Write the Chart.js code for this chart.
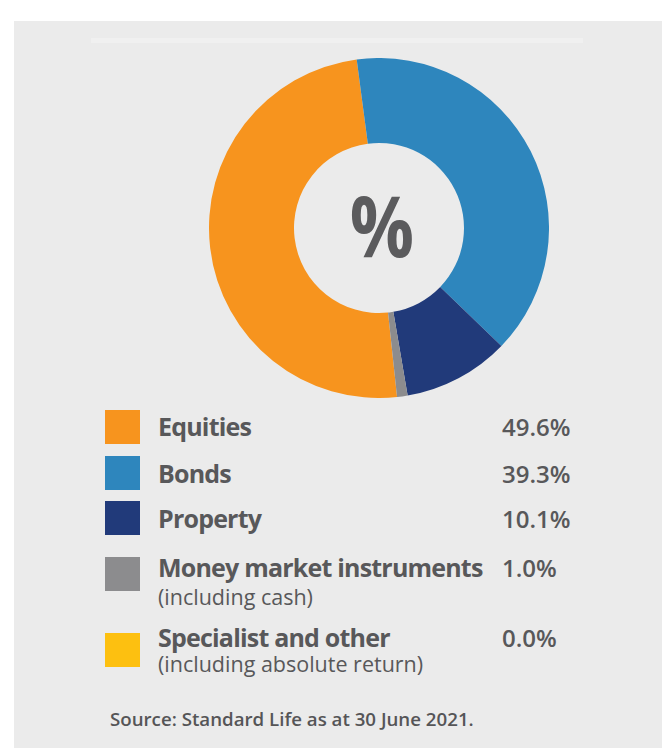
<!DOCTYPE html>
<html>
<head>
<meta charset="utf-8">
<script src="https://cdn.jsdelivr.net/npm/chart.js@4.4.0/dist/chart.umd.min.js"></script>
<style>
  html, body { margin: 0; padding: 0; background: #ffffff; }
  body { width: 667px; height: 748px; position: relative; overflow: hidden; font-family: "Open Sans", sans-serif; color: #58585a; }
  #panel { position: absolute; left: 14px; top: 21px; width: 648px; height: 727px; background: #ebebeb; }
  #rule { position: absolute; left: 91px; top: 38px; width: 492px; height: 5px; background: #f0f0f0; }
  #chartBox { position: absolute; left: 209px; top: 58px; width: 340px; height: 340px; }
  .sw { position: absolute; left: 105px; width: 35px; height: 34px; }
  .lab { position: absolute; left: 158px; font-weight: 700; font-size: 25px; line-height: 25px; white-space: nowrap; letter-spacing: -0.8px; }
  .sub { position: absolute; left: 158px; font-weight: 400; font-size: 21.5px; line-height: 21.5px; white-space: nowrap; }
  .val { position: absolute; left: 502px; font-weight: 600; font-size: 24px; line-height: 24px; white-space: nowrap; }
  #source { position: absolute; left: 110px; top: 710px; font-weight: 600; font-size: 18.7px; line-height: 18.7px; white-space: nowrap; color: #555557; }
</style>
</head>
<body>
<div id="panel"></div>
<div id="rule"></div>
<div id="chartBox"><canvas id="c" width="340" height="340"></canvas></div>
<div id="legend"></div>
<div id="source"></div>
<script>
const categories = ["Equities", "Bonds", "Property", "Money market instruments", "Specialist and other"];
const subLabels = ["", "", "", "(including cash)", "(including absolute return)"];
const values = [49.6, 39.3, 10.1, 1.0, 0.0];
const colors = ["#f7941e", "#2e86bd", "#213a7a", "#8c8c8e", "#fdc010"];
const centerLabel = "%";
const sourceText = "Source: Standard Life as at 30 June 2021.";

// legend layout (positions only)
const swatchTops = [410, 456, 501, 557, 633];
const labelBaselines = [436, 483, 528, 577, 647];
const subBaselines = [null, null, null, 605, 672];

const legend = document.getElementById('legend');
categories.forEach((name, i) => {
  const sw = document.createElement('div');
  sw.className = 'sw';
  sw.style.top = swatchTops[i] + 'px';
  sw.style.background = colors[i];
  legend.appendChild(sw);

  const lab = document.createElement('div');
  lab.className = 'lab';
  lab.style.top = Math.round(labelBaselines[i] - 0.888 * 25) + 'px';
  lab.textContent = name;
  legend.appendChild(lab);

  const val = document.createElement('div');
  val.className = 'val';
  val.style.top = Math.round(labelBaselines[i] - 0.888 * 24) + 'px';
  val.textContent = values[i].toFixed(1) + '%';
  legend.appendChild(val);

  if (subLabels[i]) {
    const sub = document.createElement('div');
    sub.className = 'sub';
    sub.style.top = Math.round(subBaselines[i] - 0.888 * 21.5) + 'px';
    sub.textContent = subLabels[i];
    legend.appendChild(sub);
  }
});
document.getElementById('source').textContent = sourceText;

const centerTextPlugin = {
  id: 'centerText',
  afterDraw(chart) {
    const meta = chart.getDatasetMeta(0);
    const arc = meta.data[0];
    const ctx = chart.ctx;
    ctx.save();
    ctx.fillStyle = '#5b5b5d';
    ctx.font = '700 84px "Open Sans"';
    ctx.textAlign = 'center';
    ctx.textBaseline = 'alphabetic';
    ctx.translate(arc.x + 3, arc.y + 29);
    ctx.scale(0.85, 1);
    ctx.fillText(centerLabel, 0, 0);
    ctx.restore();
  }
};

new Chart(document.getElementById('c'), {
  type: 'doughnut',
  data: {
    labels: categories,
    datasets: [{
      data: values,
      backgroundColor: colors,
      borderWidth: 0,
      hoverOffset: 0
    }]
  },
  options: {
    responsive: false,
    animation: false,
    rotation: 173.9,
    cutout: '50%',
    layout: { padding: 0 },
    events: [],
    plugins: {
      legend: { display: false },
      tooltip: { enabled: false }
    }
  },
  plugins: [centerTextPlugin]
});
</script>
</body>
</html>
